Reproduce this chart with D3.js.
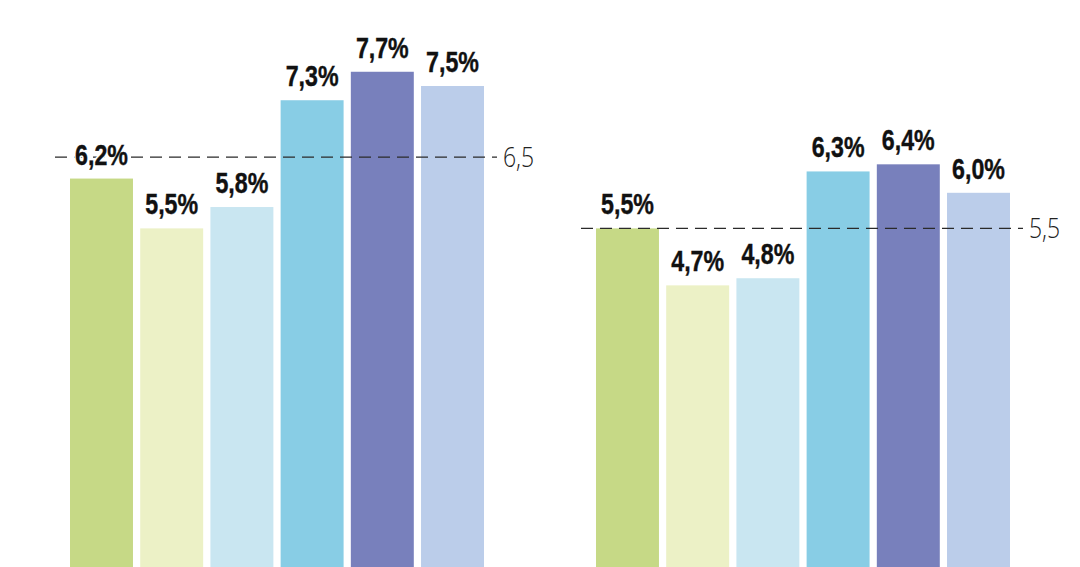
<!DOCTYPE html>
<html>
<head>
<meta charset="utf-8">
<script src="https://cdn.jsdelivr.net/npm/d3@7"></script>
<style>
  html, body { margin: 0; padding: 0; background: #ffffff; }
  svg { display: block; }
</style>
</head>
<body>
<svg id="chart" width="1080" height="567"></svg>
<script>
// ---- data ----
const groups = ["Groupe 1", "Groupe 2"];
const seriesKeys = ["s1", "s2", "s3", "s4", "s5", "s6"];
const group1Values = [6.2, 5.5, 5.8, 7.3, 7.7, 7.5];
const group2Values = [5.5, 4.7, 4.8, 6.3, 6.4, 6.0];
const referenceValues = [6.5, 5.5];
const referenceLabels = ["6,5", "5,5"];
const seriesColors = ["#c6d986", "#ecf1c6", "#c9e6f1", "#88cde5", "#7880bc", "#bbcdea"];

const valuesByGroup = [group1Values, group2Values];

// ---- layout ----
const svg = d3.select("#chart");
const W = 1080, H = 567;
const condense = 0.8;

const x0 = d3.scaleBand().domain(groups).range([70, 1010]).paddingInner(0.2129).paddingOuter(0);
const x1 = d3.scaleBand().domain(seriesKeys).range([0, x0.bandwidth()]).paddingInner(0.103).paddingOuter(0);
const y = d3.scaleLinear().domain([0, 8]).range([620, 620 - 8 * 71.2]);

const fmt = v => d3.format(".1f")(v).replace(".", ",") + "%";

groups.forEach((g, gi) => {
  const gx = x0(g);
  const grp = svg.append("g").attr("transform", `translate(${gx},0)`);
  const data = seriesKeys.map((k, i) => ({ key: k, value: valuesByGroup[gi][i], color: seriesColors[i] }));

  grp.selectAll("rect").data(data).join("rect")
    .attr("x", d => x1(d.key))
    .attr("y", d => y(d.value))
    .attr("width", x1.bandwidth())
    .attr("height", d => H + 10 - y(d.value))
    .attr("fill", d => d.color);

  // reference line (under the value labels, over the bars)
  const ry = y(referenceValues[gi]);
  const xStart = -15, xEnd = x0.bandwidth() + 13;
  grp.append("line")
    .attr("x1", xStart).attr("x2", xEnd)
    .attr("y1", ry).attr("y2", ry)
    .attr("stroke", "#2a2a2a")
    .attr("stroke-width", 1.3)
    .attr("stroke-dasharray", "12,7");

  grp.append("g")
    .attr("transform", `translate(${xEnd + 6},${ry + 10}) scale(0.82,1)`)
    .append("text")
    .attr("font-family", "'Open Sans', 'Liberation Sans', sans-serif")
    .attr("font-weight", 300)
    .attr("font-size", 28)
    .attr("fill", "#222")
    .text(referenceLabels[gi]);

  const labels = grp.selectAll("g.val").data(data).join("g")
    .attr("class", "val")
    .attr("transform", d => `translate(${x1(d.key) + x1.bandwidth() / 2},${y(d.value) - 14}) scale(${condense},1)`);

  labels.append("text")
    .attr("text-anchor", "middle")
    .attr("font-family", "'Liberation Sans', Arial, sans-serif")
    .attr("font-weight", "bold")
    .attr("font-size", 29)
    .attr("fill", "#ffffff")
    .attr("stroke", "#ffffff")
    .attr("stroke-width", 4)
    .attr("stroke-linejoin", "round")
    .text(d => fmt(d.value));

  labels.append("text")
    .attr("text-anchor", "middle")
    .attr("font-family", "'Liberation Sans', Arial, sans-serif")
    .attr("font-weight", "bold")
    .attr("font-size", 29)
    .attr("fill", "#111")
    .attr("stroke", "#111")
    .attr("stroke-width", 0.4)
    .text(d => fmt(d.value));
});
</script>
</body>
</html>
